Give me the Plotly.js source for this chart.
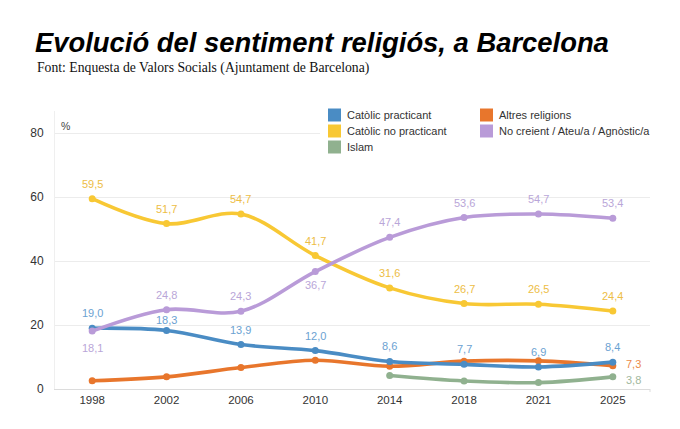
<!DOCTYPE html>
<html>
<head>
<meta charset="utf-8">
<script src="https://cdn.plot.ly/plotly-3.0.1.min.js"></script>
<style>html,body{margin:0;padding:0;background:#fff;}#chart{width:680px;height:429px;}</style>
</head>
<body>
<div id="chart"></div>
<script>
// ---- data ----
const years = ['1998', '2002', '2006', '2010', '2014', '2018', '2021', '2025'];
const catolicPracticant = [19.0, 18.3, 13.9, 12.0, 8.6, 7.7, 6.9, 8.4];
const altresReligions = [2.6, 3.8, 6.7, 9.0, 7.1, 8.7, 8.8, 7.3];
const catolicNoPracticant = [59.5, 51.7, 54.7, 41.7, 31.6, 26.7, 26.5, 24.4];
const noCreient = [18.1, 24.8, 24.3, 36.7, 47.4, 53.6, 54.7, 53.4];
const islam = [null, null, null, null, 4.2, 2.5, 2.0, 3.8];
const yTicks = [0, 20, 40, 60, 80];

const seriesNames = {
  cp: 'Catòlic practicant',
  ar: 'Altres religions',
  cnp: 'Catòlic no practicant',
  nc: 'No creient / Ateu/a / Agnòstic/a',
  is: 'Islam'
};

// ---- styles ----
const SANS = 'Liberation Sans, Arial, sans-serif';
const styles = {
  cp:  {line: '#4a8cc4', label: '#6ba2d2'},
  ar:  {line: '#e8762c', label: '#ec8a4a'},
  cnp: {line: '#f8c834', label: '#edbd45'},
  nc:  {line: '#b99bd8', label: '#b9a6d8'},
  is:  {line: '#90b18f', label: '#9fb89e'}
};
const seriesData = {cp: catolicPracticant, ar: altresReligions, cnp: catolicNoPracticant, nc: noCreient, is: islam};

// which points get a value label, and where (pixel shifts from the point)
const labelPlacement = {
  cp:  years.map((_, i) => ({show: true, dx: 0, dy: i === 1 ? 10 : 15})),
  cnp: years.map(() => ({show: true, dx: 0, dy: 15})),
  nc:  years.map((_, i) => ({show: true, dx: 0, dy: i === 0 ? -17 : (i === 3 ? -13 : 15)})),
  ar:  years.map((_, i) => ({show: i === 7, dx: 21, dy: 1.5})),
  is:  years.map((_, i) => ({show: i === 7, dx: 21, dy: -3}))
};

// legend layout (pixel positions in the 680x429 picture)
const legendCells = {
  cp:  {col: 0, row: 0}, cnp: {col: 0, row: 1}, is: {col: 0, row: 2},
  ar:  {col: 1, row: 0}, nc:  {col: 1, row: 1}
};
const legendGeom = {colX: [328, 480], rowY: [115, 131, 147], sw: 13, textGap: 3.5};

// plot area in pixels (for paper conversions of the legend/labels)
const PL = 55, PR = 650, PT = 111, PB = 389;
const px2x = px => (px - PL) / (PR - PL);
const py2y = py => (PB - py) / (PB - PT);

const fmt = v => v.toFixed(1).replace('.', ',');

const drawOrder = ['ar', 'is', 'cp', 'cnp', 'nc'];

const traces = drawOrder.map(k => ({
  type: 'scatter', mode: 'lines+markers', x: years, y: seriesData[k],
  name: seriesNames[k], showlegend: false, hoverinfo: 'skip',
  line: {color: styles[k].line, width: 3.6, shape: 'spline', smoothing: 1},
  marker: {color: styles[k].line, size: 7}
}));

const annotations = [];
Object.keys(labelPlacement).forEach(k => {
  labelPlacement[k].forEach((p, i) => {
    const v = seriesData[k][i];
    if (!p.show || v === null) return;
    annotations.push({
      x: i, y: v, xref: 'x', yref: 'y', text: fmt(v), showarrow: false,
      xanchor: 'center', yanchor: 'middle',
      xshift: p.dx, yshift: p.dy,
      font: {family: SANS, size: 11, color: styles[k].label}
    });
  });
});
annotations.push({
  xref: 'paper', yref: 'paper', x: px2x(35), y: py2y(68), xanchor: 'left', yanchor: 'middle',
  text: 'Font: Enquesta de Valors Socials (Ajuntament de Barcelona)', showarrow: false,
  font: {family: 'Liberation Serif, Times New Roman, serif', size: 13.7, color: '#111'}
});
annotations.push({
  xref: 'paper', yref: 'paper', x: px2x(59), y: py2y(126), xanchor: 'left', yanchor: 'middle',
  text: '%', showarrow: false, font: {family: SANS, size: 10.5, color: '#444'}
});

// legend: white backing, swatches and names
const shapes = [{
  type: 'rect', xref: 'paper', yref: 'paper', layer: 'above',
  x0: px2x(320), x1: px2x(656), y0: py2y(156), y1: py2y(104),
  fillcolor: '#ffffff', line: {width: 0}
}, {
  // small end tick on the x axis
  type: 'line', xref: 'paper', yref: 'paper', layer: 'above',
  x0: 1, x1: 1, y0: 0, y1: py2y(392), line: {color: '#dcdcdc', width: 1}
}];
Object.keys(legendCells).forEach(k => {
  const c = legendCells[k];
  const x0 = legendGeom.colX[c.col], yc = legendGeom.rowY[c.row], h = legendGeom.sw / 2;
  shapes.push({
    type: 'rect', xref: 'paper', yref: 'paper', layer: 'above',
    x0: px2x(x0), x1: px2x(x0 + legendGeom.sw), y0: py2y(yc + h), y1: py2y(yc - h),
    fillcolor: styles[k].line, line: {width: 0}
  });
  annotations.push({
    xref: 'paper', yref: 'paper', x: px2x(x0 + legendGeom.sw + legendGeom.textGap), y: py2y(yc),
    xanchor: 'left', yanchor: 'middle', showarrow: false, text: seriesNames[k],
    font: {family: SANS, size: 11, color: '#333'}
  });
});

const layout = {
  width: 680, height: 429,
  margin: {l: PL, r: 680 - PR, t: PT, b: 429 - PB},
  paper_bgcolor: '#fff', plot_bgcolor: '#fff',
  showlegend: false,
  title: {
    text: 'Evolució del sentiment religiós, a Barcelona',
    xref: 'container', yref: 'container', x: 35 / 680, xanchor: 'left',
    y: 1 - 42 / 429, yanchor: 'middle',
    font: {family: SANS, size: 27.4, weight: 700, style: 'italic', color: '#000'}
  },
  xaxis: {
    type: 'category', range: [-0.5, 7.5], showgrid: false, zeroline: false,
    showline: true, linecolor: '#dcdcdc', linewidth: 1, ticks: '',
    tickfont: {family: SANS, size: 11.5, color: '#333'}, fixedrange: true
  },
  yaxis: {
    range: [0, 86.9], tickvals: yTicks, ticktext: yTicks.map(String),
    showgrid: true, gridcolor: '#ececec', gridwidth: 1, zeroline: false,
    showline: true, linecolor: '#efefef', ticks: '', ticklabelstandoff: 8,
    tickfont: {family: SANS, size: 12, color: '#333'}, fixedrange: true
  },
  shapes: shapes,
  annotations: annotations
};

Plotly.newPlot('chart', traces, layout, {displayModeBar: false, staticPlot: true});
</script>
</body>
</html>
